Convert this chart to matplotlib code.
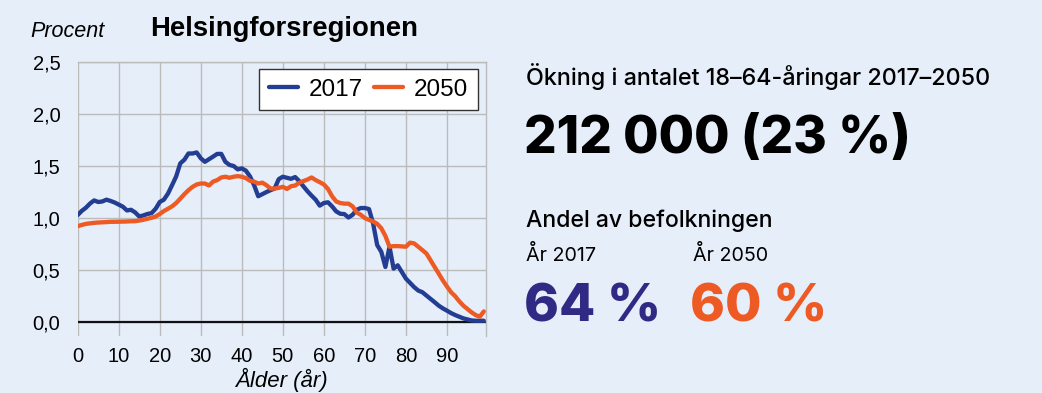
import matplotlib
matplotlib.use('Agg')
import matplotlib.pyplot as plt
import numpy as np

# Andel av befolkningen per ålder (procent), Helsingforsregionen
ages = list(range(0, 100))
share_2017 = [
    1.03, 1.07, 1.10, 1.14, 1.17, 1.155, 1.16, 1.177, 1.165, 1.15,
    1.13, 1.11, 1.074, 1.08, 1.055, 1.016, 1.026, 1.04, 1.048, 1.09,
    1.155, 1.177, 1.235, 1.316, 1.40, 1.525, 1.56, 1.62, 1.62, 1.63,
    1.574, 1.54, 1.565, 1.59, 1.616, 1.616, 1.54, 1.51, 1.50, 1.468,
    1.477, 1.455, 1.40, 1.316, 1.21, 1.23, 1.25, 1.268, 1.284, 1.374,
    1.397, 1.387, 1.377, 1.394, 1.355, 1.306, 1.258, 1.216, 1.177, 1.12,
    1.145, 1.152, 1.113, 1.065, 1.042, 1.039, 1.006, 1.032, 1.08, 1.097,
    1.097, 1.087, 0.95, 0.742, 0.677, 0.532, 0.726, 0.516, 0.548, 0.484,
    0.42, 0.38, 0.339, 0.306, 0.29, 0.258, 0.226, 0.194, 0.161, 0.135,
    0.113, 0.09, 0.071, 0.055, 0.039, 0.029, 0.019, 0.016, 0.016, 0.016,
]
share_2050 = [
    0.923, 0.935, 0.945, 0.95, 0.955, 0.958, 0.96, 0.962, 0.965, 0.965,
    0.966, 0.967, 0.968, 0.97, 0.971, 0.977, 0.984, 0.994, 1.003, 1.016,
    1.04, 1.068, 1.09, 1.113, 1.145, 1.187, 1.23, 1.268, 1.30, 1.323,
    1.332, 1.332, 1.313, 1.35, 1.365, 1.39, 1.397, 1.387, 1.397, 1.403,
    1.397, 1.384, 1.358, 1.35, 1.332, 1.34, 1.316, 1.284, 1.284, 1.29,
    1.30, 1.28, 1.306, 1.313, 1.339, 1.355, 1.37, 1.39, 1.365, 1.345,
    1.323, 1.28, 1.21, 1.16, 1.145, 1.139, 1.139, 1.113, 1.055, 1.032,
    1.0, 0.984, 0.968, 0.945, 0.903, 0.829, 0.726, 0.732, 0.732, 0.729,
    0.726, 0.765, 0.758, 0.726, 0.694, 0.661, 0.597, 0.532, 0.468, 0.403,
    0.345, 0.29, 0.252, 0.203, 0.161, 0.129, 0.097, 0.071, 0.055, 0.106,
]
years = ['2017', '2050']
ytick_vals = [0.0, 0.5, 1.0, 1.5, 2.0, 2.5]
xtick_vals = [0, 10, 20, 30, 40, 50, 60, 70, 80, 90]

bg = '#E6EEFA'
blue = '#233D93'
orange = '#EE5A24'
purple = '#302A84'

W, H = 1042, 393
fig = plt.figure(figsize=(W / 100, H / 100), dpi=100, facecolor=bg)

def px_axes(x0, y0, x1, y1):
    return fig.add_axes([x0 / W, 1 - y1 / H, (x1 - x0) / W, (y1 - y0) / H])

ax = px_axes(77.7, 61.7, 485.5, 336)
ax.set_facecolor(bg)
ax.plot(ages, share_2017, color=blue, lw=3.1, label=years[0], solid_capstyle='round')
ax.plot(ages, share_2050, color=orange, lw=3.1, label=years[1], solid_capstyle='round')
ax.axhline(0, color='#111111', lw=1.6, zorder=1.5)

ax.set_xlim(0, 99.4)
ax.set_ylim(-0.13, 2.5)
ax.set_xticks(xtick_vals)
ax.set_yticks(ytick_vals)
ax.set_yticklabels([f'{v:.1f}'.replace('.', ',') for v in ytick_vals])
ax.grid(True, color='#BBBBBB', lw=1.0)
ax.set_axisbelow(True)
ax.tick_params(length=0, labelsize=14.5)
for lbl in ax.get_xticklabels() + ax.get_yticklabels():
    lbl.set_fontfamily('Liberation Sans')
ax.tick_params(axis='x', pad=8)
ax.tick_params(axis='y', pad=12.5)
for side in ['top', 'right']:
    ax.spines[side].set_color('#BBBBBB')
    ax.spines[side].set_linewidth(1.0)
ax.spines['left'].set_visible(False)
ax.spines['bottom'].set_visible(False)

leg = ax.legend(loc='upper right', ncol=2, fancybox=False, frameon=True,
                edgecolor='#333333', framealpha=1,
                prop={'family': 'Liberation Sans', 'size': 17.5},
                handlelength=1.2, handletextpad=0.45, columnspacing=0.45,
                borderaxespad=0.3, borderpad=0.4)
leg.get_frame().set_linewidth(1.0)

ax.set_xlabel('Ålder (år)', fontsize=16, style='italic',
              family='Liberation Sans', labelpad=1)

fig.text(30 / W, 1 - 37 / H, 'Procent', fontsize=15.5, style='italic',
         family='Liberation Sans', va='baseline')
fig.text(150 / W, 1 - 36 / H, 'Helsingforsregionen', fontsize=19.8,
         weight='bold', family='Liberation Sans', va='baseline')

# textblocket till höger
tf = 'Inter'
fig.text(526 / W, 1 - 85 / H, 'Ökning i antalet 18–64-åringar 2017–2050',
         fontsize=16.8, family=tf, weight='medium', va='baseline')
fig.text(524 / W, 1 - 153 / H, '212 000 (23 %)', fontsize=37,
         family=tf, weight='heavy', va='baseline')
fig.text(526 / W, 1 - 226.7 / H, 'Andel av befolkningen', fontsize=16.6,
         family=tf, weight='medium', va='baseline')
fig.text(526 / W, 1 - 260.7 / H, 'År 2017', fontsize=14.2,
         family=tf, va='baseline')
fig.text(692.7 / W, 1 - 260.7 / H, 'År 2050', fontsize=14.2,
         family=tf, va='baseline')
fig.text(524 / W, 1 - 321.7 / H, '64 %', fontsize=38, color=purple,
         family=tf, weight='heavy', va='baseline')
fig.text(690 / W, 1 - 321.7 / H, '60 %', fontsize=38, color=orange,
         family=tf, weight='heavy', va='baseline')

fig.savefig('out.png', dpi=100, facecolor=bg)
